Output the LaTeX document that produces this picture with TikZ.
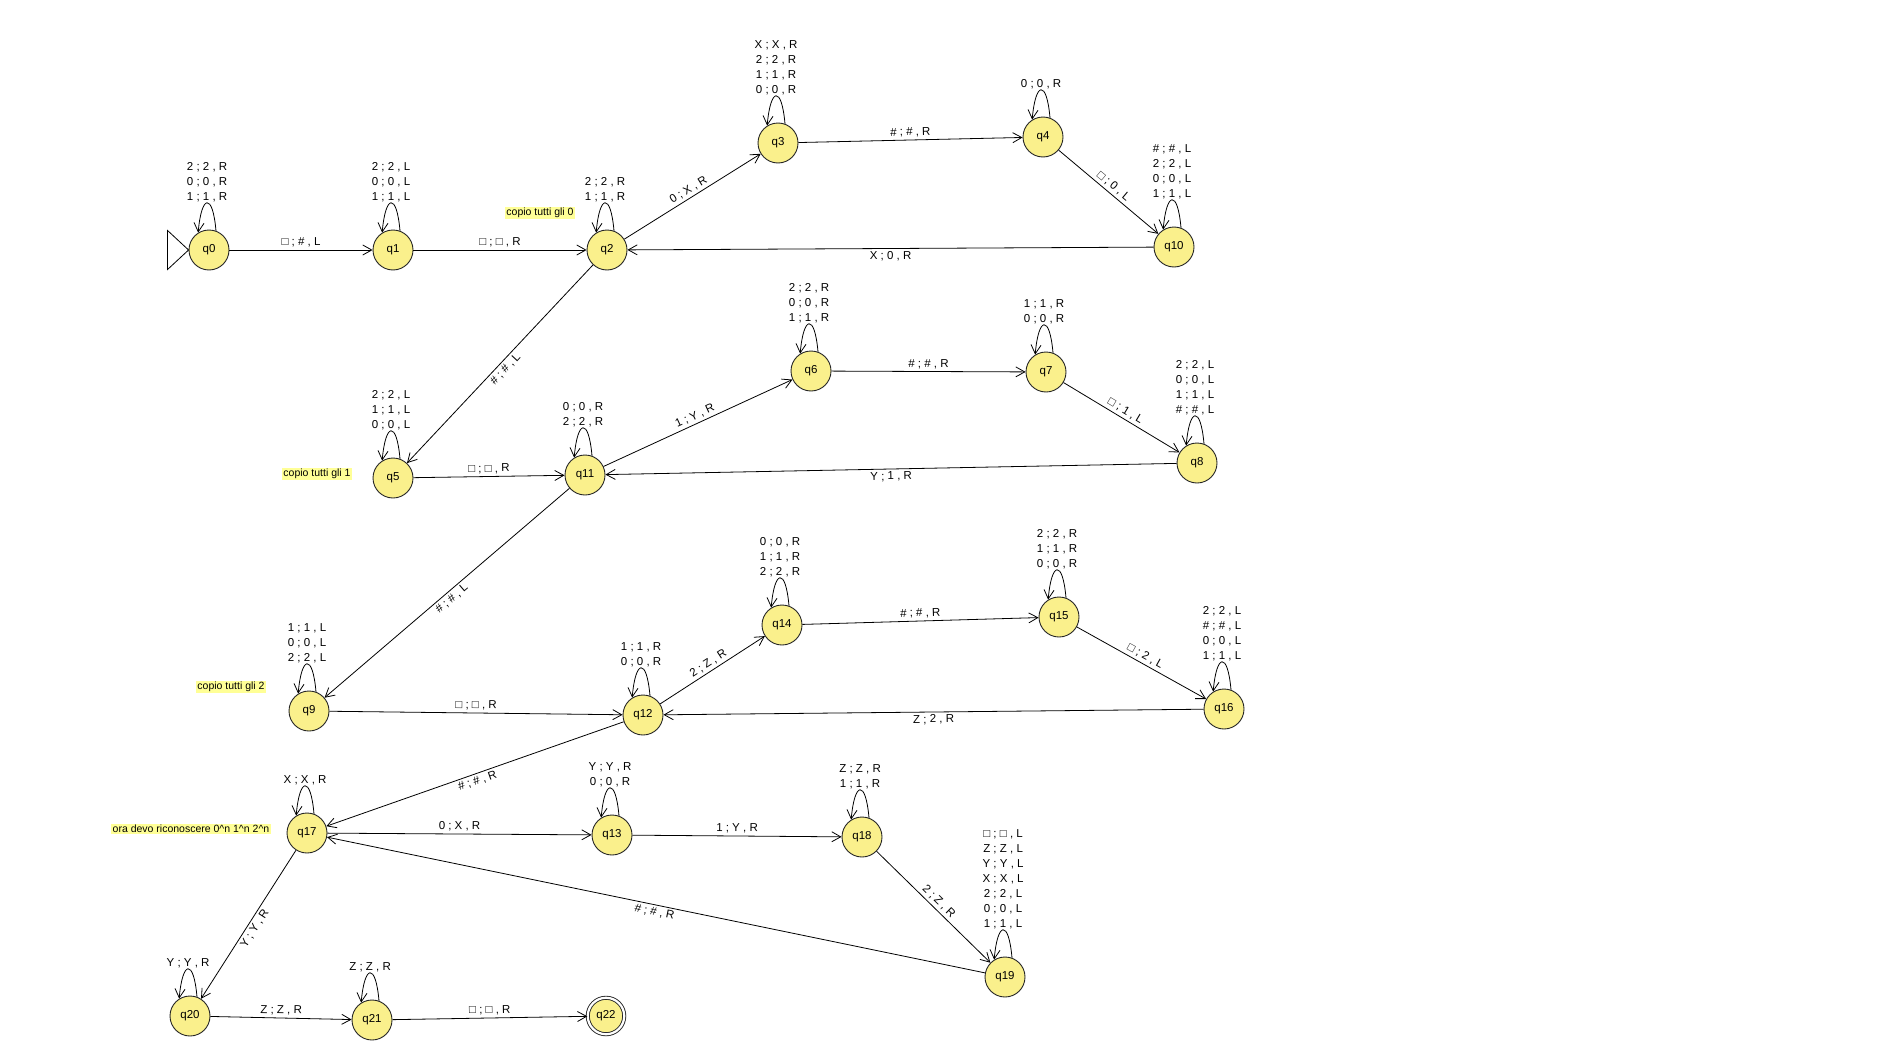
\documentclass[tikz,border=0pt]{standalone}
\usepackage{fontspec}
\setmainfont{Liberation Sans}
\usetikzlibrary{arrows.meta}
\definecolor{statefill}{RGB}{250,240,140}
\definecolor{notefill}{RGB}{255,255,150}
\tikzset{
  state/.style={circle, draw=black!85, fill=statefill, line width=0.9pt,
    minimum size=40pt, inner sep=0pt, font=\fontsize{11.5}{14}\selectfont},
  accepting/.style={state, double, double distance=2.2pt, minimum size=36.5pt},
  trans/.style={-{Straight Barb[length=9pt,width=10pt]}, line width=0.8pt},
  lab/.style={sloped, above, inner sep=2.5pt, font=\fontsize{11.5}{15}\selectfont},
  labback/.style={lab, below},
  looplab/.style={above, align=center, inner sep=1pt, font=\fontsize{11.5}{15}\selectfont},
  selfloop/.style={trans, out=95, in=85, looseness=5.5},
  note/.style={fill=notefill, inner sep=1.5pt, font=\fontsize{10.5}{12}\selectfont}
}
\begin{document}
\begin{tikzpicture}[x=1pt,y=1pt]
\useasboundingbox (0,0) rectangle (1893,-1041);
% States, first row: copy the 0s
\node[state] (q0) at (209,-250) {q0};
\node[state] (q1) at (393,-250) {q1};
\node[state] (q2) at (607,-250) {q2};
\node[state] (q3) at (778,-143) {q3};
\node[state] (q4) at (1043,-137) {q4};
\node[state] (q10) at (1174,-247) {q10};
% Second row: copy the 1s
\node[state] (q5) at (393,-478) {q5};
\node[state] (q11) at (585,-475) {q11};
\node[state] (q6) at (811,-371) {q6};
\node[state] (q7) at (1046,-372) {q7};
\node[state] (q8) at (1197,-463) {q8};
% Third row: copy the 2s
\node[state] (q9) at (309,-711) {q9};
\node[state] (q12) at (643,-715) {q12};
\node[state] (q14) at (782,-625) {q14};
\node[state] (q15) at (1059,-617) {q15};
\node[state] (q16) at (1224,-709) {q16};
% Recognizer part
\node[state] (q17) at (307,-833) {q17};
\node[state] (q13) at (612,-835) {q13};
\node[state] (q18) at (862,-837) {q18};
\node[state] (q19) at (1005,-977) {q19};
\node[state] (q20) at (190,-1016) {q20};
\node[state] (q21) at (372,-1020) {q21};
\node[accepting] (q22) at (606,-1016) {q22};
% Initial marker
\draw[line width=0.8pt] (q0.west) -- ++(-21,19.5) -- ++(0,-39) -- cycle;
% Notes
\node[note] (n0) at (540,-213) {copio tutti gli 0};
\node[note] (n1) at (317,-474) {copio tutti gli 1};
\node[note] (n2) at (231,-687) {copio tutti gli 2};
\node[note] (n3) at (191,-829) {ora devo riconoscere 0\textasciicircum n 1\textasciicircum n 2\textasciicircum n};
% Transitions
\draw[trans] (q0) -- node[lab] {□ ; \# , L} (q1);
\draw[trans] (q1) -- node[lab] {□ ; □ , R} (q2);
\draw[trans] (q2) -- node[lab] {0 ; X , R} (q3);
\draw[trans] (q3) -- node[lab] {\# ; \# , R} (q4);
\draw[trans] (q4) -- node[lab] {□ ; 0 , L} (q10);
\draw[trans] (q10) -- node[labback] {X ; 0 , R} (q2);
\draw[trans] (q2) -- node[labback] {\# ; \# , L} (q5);
\draw[trans] (q5) -- node[lab] {□ ; □ , R} (q11);
\draw[trans] (q11) -- node[lab] {1 ; Y , R} (q6);
\draw[trans] (q6) -- node[lab] {\# ; \# , R} (q7);
\draw[trans] (q7) -- node[lab] {□ ; 1 , L} (q8);
\draw[trans] (q8) -- node[labback] {Y ; 1 , R} (q11);
\draw[trans] (q11) -- node[labback] {\# ; \# , L} (q9);
\draw[trans] (q9) -- node[lab] {□ ; □ , R} (q12);
\draw[trans] (q12) -- node[lab] {2 ; Z , R} (q14);
\draw[trans] (q14) -- node[lab] {\# ; \# , R} (q15);
\draw[trans] (q15) -- node[lab] {□ ; 2 , L} (q16);
\draw[trans] (q16) -- node[labback] {Z ; 2 , R} (q12);
\draw[trans] (q12) -- node[labback] {\# ; \# , R} (q17);
\draw[trans] (q17) -- node[lab] {0 ; X , R} (q13);
\draw[trans] (q13) -- node[lab] {1 ; Y , R} (q18);
\draw[trans] (q18) -- node[lab] {2 ; Z , R} (q19);
\draw[trans] (q19) -- node[labback] {\# ; \# , R} (q17);
\draw[trans] (q17) -- node[labback] {Y ; Y , R} (q20);
\draw[trans] (q20) -- node[lab] {Z ; Z , R} (q21);
\draw[trans] (q21) -- node[lab] {□ ; □ , R} (q22);
% Self loops
\draw[selfloop] (q0.70) to node[looplab] {2 ; 2 , R\\0 ; 0 , R\\1 ; 1 , R} (q0.122);
\draw[selfloop] (q1.70) to node[looplab] {2 ; 2 , L\\0 ; 0 , L\\1 ; 1 , L} (q1.122);
\draw[selfloop] (q2.70) to node[looplab] {2 ; 2 , R\\1 ; 1 , R} (q2.122);
\draw[selfloop] (q3.70) to node[looplab] {X ; X , R\\2 ; 2 , R\\1 ; 1 , R\\0 ; 0 , R} (q3.122);
\draw[selfloop] (q4.70) to node[looplab] {0 ; 0 , R} (q4.122);
\draw[selfloop] (q10.70) to node[looplab] {\# ; \# , L\\2 ; 2 , L\\0 ; 0 , L\\1 ; 1 , L} (q10.122);
\draw[selfloop] (q5.70) to node[looplab] {2 ; 2 , L\\1 ; 1 , L\\0 ; 0 , L} (q5.122);
\draw[selfloop] (q11.70) to node[looplab] {0 ; 0 , R\\2 ; 2 , R} (q11.122);
\draw[selfloop] (q6.70) to node[looplab] {2 ; 2 , R\\0 ; 0 , R\\1 ; 1 , R} (q6.122);
\draw[selfloop] (q7.70) to node[looplab] {1 ; 1 , R\\0 ; 0 , R} (q7.122);
\draw[selfloop] (q8.70) to node[looplab] {2 ; 2 , L\\0 ; 0 , L\\1 ; 1 , L\\\# ; \# , L} (q8.122);
\draw[selfloop] (q9.70) to node[looplab] {1 ; 1 , L\\0 ; 0 , L\\2 ; 2 , L} (q9.122);
\draw[selfloop] (q12.70) to node[looplab] {1 ; 1 , R\\0 ; 0 , R} (q12.122);
\draw[selfloop] (q14.70) to node[looplab] {0 ; 0 , R\\1 ; 1 , R\\2 ; 2 , R} (q14.122);
\draw[selfloop] (q15.70) to node[looplab] {2 ; 2 , R\\1 ; 1 , R\\0 ; 0 , R} (q15.122);
\draw[selfloop] (q16.70) to node[looplab] {2 ; 2 , L\\\# ; \# , L\\0 ; 0 , L\\1 ; 1 , L} (q16.122);
\draw[selfloop] (q17.70) to node[looplab] {X ; X , R} (q17.122);
\draw[selfloop] (q13.70) to node[looplab] {Y ; Y , R\\0 ; 0 , R} (q13.122);
\draw[selfloop] (q18.70) to node[looplab] {Z ; Z , R\\1 ; 1 , R} (q18.122);
\draw[selfloop] (q19.70) to node[looplab] {□ ; □ , L\\Z ; Z , L\\Y ; Y , L\\X ; X , L\\2 ; 2 , L\\0 ; 0 , L\\1 ; 1 , L} (q19.122);
\draw[selfloop] (q20.70) to node[looplab] {Y ; Y , R} (q20.122);
\draw[selfloop] (q21.70) to node[looplab] {Z ; Z , R} (q21.122);
\end{tikzpicture}
\end{document}
